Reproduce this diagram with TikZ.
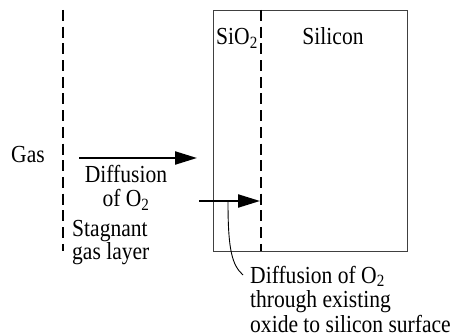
\documentclass[tikz,border=0pt]{standalone}
\usepackage{fontspec}
\setmainfont{Liberation Serif}[FakeStretch=0.88]
\usetikzlibrary{arrows.meta}
\begin{document}
\begin{tikzpicture}[x=1pt,y=-1pt,
  lbl/.style={inner sep=0pt,font=\fontsize{24.5}{24}\selectfont,align=left},
  dashline/.style={line width=2.2pt,dash pattern=on 11pt off 5.7pt},
  flow/.style={line width=2.2pt,-{Triangle[length=22pt,width=13pt]}},
  box/.style={draw=black!75,line width=1.2pt}]
\useasboundingbox (0,0) rectangle (452,336);
% stagnant layer boundary
\coordinate (g1) at (63,10);
\coordinate (g2) at (63,251);
\draw[dashline] (g1) -- (g2);
% wafer
\node[box,minimum width=194pt,minimum height=241pt,anchor=north west,inner sep=0pt] (wafer) at (213,10) {};
\coordinate (i1) at (261,10);
\coordinate (i2) at (261,251);
\draw[dashline] (i1) -- (i2);
% labels (base anchor = baseline of last line)
\node[lbl,anchor=base west] (sio2) at (216,45) {SiO\textsubscript{2}};
\node[lbl,anchor=base] (si) at (333,45) {Silicon};
\node[lbl,anchor=base west] (gas) at (11,163) {Gas};
\node[lbl,anchor=base,align=center] (dif) at (126,207) {Diffusion\\of O\textsubscript{2}};
\node[lbl,anchor=base west,font=\fontsize{24.5}{23.3}\selectfont] (stag) at (72,260) {Stagnant\\gas layer};
\node[lbl,anchor=base west,font=\fontsize{24.5}{24.5}\selectfont] (ox) at (250,332) {Diffusion of O\textsubscript{2}\\through existing\\oxide to silicon surface};
% arrows
\coordinate (a1s) at (79,158);
\coordinate (a1e) at (197,158);
\draw[flow] (a1s) -- (a1e);
\coordinate (a2s) at (199,201);
\coordinate (a2e) at (260,201);
\draw[flow] (a2s) -- (a2e);
% leader
\coordinate (ls) at (228,202);
\coordinate (le) at (243,275);
\draw[line width=0.9pt] (ls) .. controls (228,250) and (232,265) .. (le);
\end{tikzpicture}
\end{document}
